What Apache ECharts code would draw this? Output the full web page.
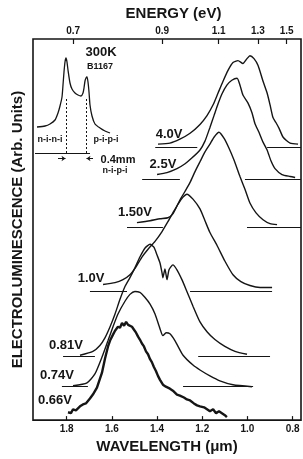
<!DOCTYPE html>
<html>
<head>
<meta charset="utf-8">
<script src="https://cdn.jsdelivr.net/npm/echarts@6/dist/echarts.min.js"></script>
<style>
html,body{margin:0;padding:0;background:#fff;}
#chart{width:303px;height:459px;}
</style>
</head>
<body>
<div id="chart"></div>
<script>
// axis ticks
var lamTicks = [1.8, 1.6, 1.4, 1.2, 1.0, 0.8];
var energyTicks = [0.7, 0.9, 1.1, 1.3, 1.5];
var HC = 1.24; // eV * um

// spectra: wavelength (um) and EL intensity above the curve's own baseline (arb.)
var lam40 = [1.396,1.343,1.299,1.254,1.210,1.179,1.152,1.130,1.108,1.086,1.064,1.042,1.020,1.002,0.989,0.971,0.953,0.931,0.913,0.900,0.887,0.874,0.860,0.842,0.811,0.776];
var el40  = [0.75,1,2,3.5,5.75,8,10.75,13.75,16.75,19.5,21.5,22,21.25,22.5,23.25,22.5,20.75,16.75,13.75,10.75,7.5,6.25,4.75,2.5,1,0.75];

var lam25 = [1.400,1.356,1.312,1.276,1.245,1.210,1.188,1.166,1.148,1.130,1.113,1.091,1.069,1.046,1.033,1.020,0.998,0.980,0.967,0.949,0.931,0.913,0.896,0.878,0.847,0.811,0.789];
var el25  = [1.25,1.75,2.75,4,5.5,7.5,9.75,13.25,16.25,19.25,21.75,24,25.25,25.75,24,21.5,19.5,17,14.25,12,9.5,7.5,4.75,2.75,1.25,0.75,0.5];

var lam15 = [1.489,1.431,1.387,1.352,1.330,1.312,1.294,1.276,1.254,1.232,1.210,1.188,1.166,1.148,1.126,1.104,1.082,1.060,1.033,1.011,0.989,0.962,0.931,0.900,0.869];
var el15  = [1.25,1.75,2.25,2.5,3.5,5.5,7.5,9.25,11.5,14.25,16.75,19.25,21.25,23,24.25,22.75,20.25,17.25,13,9.75,6.25,3.75,2,1,0.75];

var lam10 = [1.639,1.586,1.551,1.520,1.493,1.467,1.440,1.409,1.378,1.352,1.330,1.307,1.285,1.268,1.241,1.210,1.188,1.166,1.135,1.100,1.064,1.029,0.989,0.944,0.891];
var el10  = [1.75,2.25,3,4.25,6.25,8.75,10.75,12.75,15.25,17.75,20,22.25,24,24.75,23.5,21,18,15,11.75,7.75,4.25,2.5,1.5,1,1];

var lam081 = [1.741,1.684,1.653,1.630,1.608,1.586,1.564,1.542,1.520,1.498,1.476,1.454,1.431,1.414,1.400,1.387,1.378,1.374,1.365,1.356,1.347,1.330,1.312,1.290,1.268,1.241,1.210,1.179,1.144,1.100,1.055,1.002];
var el081  = [0.25,1.25,2.75,4.75,7.5,10.75,14.5,17.75,20,22.5,25.25,27.5,28.5,27.75,25.75,23.75,21.25,20,22.25,19.5,22,23.25,22,19.5,16.5,12.75,8.75,6.25,4.25,2.5,1.25,0.5];

var lam074 = [1.772,1.710,1.675,1.644,1.617,1.595,1.573,1.542,1.520,1.498,1.476,1.454,1.431,1.409,1.387,1.374,1.360,1.343,1.321,1.285,1.241,1.210,1.166,1.122,1.064,0.980];
var el074  = [0.25,1,3.25,7.5,11.75,15.25,18.5,21.75,23.5,24.25,24,22.75,21,18.5,14.75,13,13.75,13.5,11.75,8,5.5,4.25,2.75,1.5,0.5,0];

var lam066 = [1.794,1.781,1.772,1.759,1.741,1.728,1.715,1.697,1.684,1.666,1.653,1.644,1.630,1.617,1.608,1.595,1.586,1.573,1.564,1.555,1.546,1.537,1.528,1.520,1.511,1.502,1.493,1.484,1.476,1.467,1.458,1.449,1.440,1.431,1.423,1.414,1.405,1.396,1.387,1.374,1.361,1.343,1.330,1.312,1.299,1.281,1.268,1.254,1.237,1.223,1.210,1.192,1.179,1.166,1.152,1.139,1.126,1.113,1.100,1.091];
var el066  = [1.75,1.5,2.5,2.25,3.25,3.75,4,5.25,6.25,8,10.25,11.75,15.5,18.5,20,21.5,22.5,23.5,23.25,24.5,23.75,24.75,24,24.25,23.5,22.75,22,21,20.25,19.25,18.5,17.25,16.5,15.25,14.5,13.25,12.25,11,10,8.75,8.25,7.75,7.25,6.25,6,5.5,5,4.75,4,3.5,3.25,3,2.5,2,2.5,1.5,2,1.5,1,0.5];

// vertical offsets of each trace and the drawn zero-lines (wavelength spans)
var voltages = ['4.0V','2.5V','1.50V','1.0V','0.81V','0.74V','0.66V'];
var offsets  = [69.5, 61.25, 49, 32.75, 16.25, 8.5, 0.25];
var base40  = [[1.408,1.222],[0.913,0.763]];
var base25  = [[1.466,1.299],[1.011,0.763]];
var base15  = [[1.533,1.374],[1.002,0.763]];
var base10  = [[1.697,1.533],[1.254,0.891]];
var base081 = [[1.816,1.675],[1.218,0.900]];
var base074 = [[1.821,1.706],[1.285,0.975]];
var base066 = [];

// inset: spatial profile (mm) at 300K
var insetPos = [0.04,0.20,0.30,0.40,0.46,0.50,0.54,0.56,0.58,0.60,0.62,0.64,0.66,0.70,0.74,0.80,0.86,0.92,0.96,0.98,1.00,1.02,1.04,1.06,1.08,1.10,1.14,1.20,1.30,1.40,1.50];
var insetEl  = [13,13.5,14.5,16.5,20,23.5,28,34,40.5,45.5,47.5,45.5,41.5,35,32,30,29,28.5,30,32.5,36,37.5,38,35.5,30.5,24,18.5,14.5,12.5,11,10];
var insetMarks = [0.62, 1.02];

var FONT = '"Liberation Sans", Arial, Helvetica, sans-serif';
var INK = '#151515';

var traces = [
    [lam40, el40, base40],
    [lam25, el25, base25],
    [lam15, el15, base15],
    [lam10, el10, base10],
    [lam081, el081, base081],
    [lam074, el074, base074],
    [lam066, el066, base066]
];
// where the voltage tags sit (wavelength, y)
var tagPos = [[1.347,72.75],[1.374,65],[1.498,52.75],[1.692,36],[1.803,19],[1.843,11.25],[1.852,5]];

var lamMin = 0.763, lamMax = 1.949;

var series = [];
traces.forEach(function (t, i) {
    var off = offsets[i];
    var isLast = voltages[i] == '0.66V';
    series.push({
        name: voltages[i],
        type: 'line',
        xAxisIndex: 0,
        yAxisIndex: 0,
        symbol: 'none',
        smooth: isLast ? false : 0.2,
        data: t[0].map(function (l, k) { return [l, off + t[1][k]]; }),
        lineStyle: { color: INK, width: isLast ? 2.4 : 1.4 },
        markLine: {
            silent: true,
            symbol: ['none', 'none'],
            label: { show: false },
            lineStyle: { color: INK, width: 1, type: 'solid' },
            data: t[2].map(function (s) {
                return [{ coord: [s[0], off] }, { coord: [s[1], off] }];
            })
        },
        markPoint: {
            silent: true,
            symbol: 'circle',
            symbolSize: 0,
            data: [{ coord: tagPos[i], value: voltages[i] }],
            label: {
                show: true, position: 'inside', formatter: voltages[i],
                color: INK, fontFamily: FONT, fontWeight: 'bold', fontSize: 13
            }
        }
    });
});

// inset profile
series.push({
    type: 'line',
    xAxisIndex: 2,
    yAxisIndex: 1,
    symbol: 'none',
    smooth: 0.2,
    data: insetPos.map(function (p, k) { return [p, insetEl[k]]; }),
    lineStyle: { color: INK, width: 1.3 },
    markLine: {
        silent: true,
        symbol: ['none', 'none'],
        label: { show: false },
        lineStyle: { color: INK, width: 1, type: [2, 2] },
        data: insetMarks.map(function (m) {
            return [{ coord: [m, 0] }, { coord: [m, 28] }];
        }).concat([
            [{ coord: [0, 0], lineStyle: { type: 'solid' } }, { coord: [1.1, 0] }],
            [{ coord: [0.46, -2.75], lineStyle: { type: 'solid' } }, { coord: [0.61, -2.75], symbol: 'arrow', symbolSize: 4 }],
            [{ coord: [1.16, -2.75], lineStyle: { type: 'solid' } }, { coord: [1.03, -2.75], symbol: 'arrow', symbolSize: 4 }]
        ])
    }
});

function txt(s, x, y, size) {
    return {
        type: 'text', x: x, y: y, silent: true,
        style: {
            text: s, fill: INK, font: 'bold ' + size + 'px ' + FONT,
            textAlign: 'center', textVerticalAlign: 'middle',
            align: 'center', verticalAlign: 'middle'
        }
    };
}

var tickFont = { color: INK, fontFamily: FONT, fontWeight: 'bold', fontSize: 10 };
var nameFont = { color: INK, fontFamily: FONT, fontWeight: 'bold', fontSize: 15 };

var option = {
    animation: false,
    backgroundColor: '#fff',
    grid: [
        { left: 33, right: 2, top: 39, bottom: 31, show: true, borderColor: INK, borderWidth: 1.6, backgroundColor: 'transparent' },
        { left: 35, top: 55, width: 75, height: 108, show: false }
    ],
    xAxis: [
        {
            type: 'value', gridIndex: 0, min: lamMin, max: lamMax, inverse: true, position: 'bottom',
            name: 'WAVELENGTH (μm)', nameLocation: 'middle', nameGap: 15, nameTextStyle: nameFont,
            axisLine: { show: false },
            axisTick: { show: true, inside: true, length: 4, customValues: lamTicks, lineStyle: { color: INK, width: 1.2 } },
            axisLabel: { customValues: lamTicks, margin: 4, formatter: function (v) { return v.toFixed(1); }, ...tickFont },
            splitLine: { show: false }
        },
        {
            type: 'value', gridIndex: 0, min: lamMin, max: lamMax, inverse: true, position: 'top',
            name: 'ENERGY (eV)', nameLocation: 'middle', nameGap: 17,
            nameTextStyle: Object.assign({ padding: [0, 0, 0, 13] }, nameFont),
            axisLine: { show: false },
            axisTick: { show: true, inside: true, length: 5, customValues: energyTicks.map(function (e) { return HC / e; }), lineStyle: { color: INK, width: 1.2 } },
            axisLabel: { customValues: energyTicks.map(function (e) { return HC / e; }), margin: 3, formatter: function (v) { return (HC / v).toFixed(1); }, ...tickFont },
            splitLine: { show: false }
        },
        { type: 'value', gridIndex: 1, min: 0, max: 1.5, show: false }
    ],
    yAxis: [
        {
            type: 'value', gridIndex: 0, min: 0, max: 97,
            name: 'ELECTROLUMINESCENCE (Arb. Units)', nameLocation: 'middle', nameGap: 8, nameRotate: 90,
            nameTextStyle: nameFont,
            axisLine: { show: false }, axisTick: { show: false }, axisLabel: { show: false }, splitLine: { show: false }
        },
        { type: 'value', gridIndex: 1, min: -5, max: 49, show: false }
    ],
    graphic: [
        txt('300K', 101, 52, 13),
        txt('B1167', 100, 67, 9),
        txt('n-i-n-i', 50, 140, 9),
        txt('p-i-p-i', 106, 140, 9),
        txt('0.4mm', 118, 160, 11),
        txt('n-i-p-i', 115, 171, 9)
    ],
    series: series
};

var chart = echarts.init(document.getElementById('chart'), null, { renderer: 'canvas' });
chart.setOption(option);
</script>
</body>
</html>
